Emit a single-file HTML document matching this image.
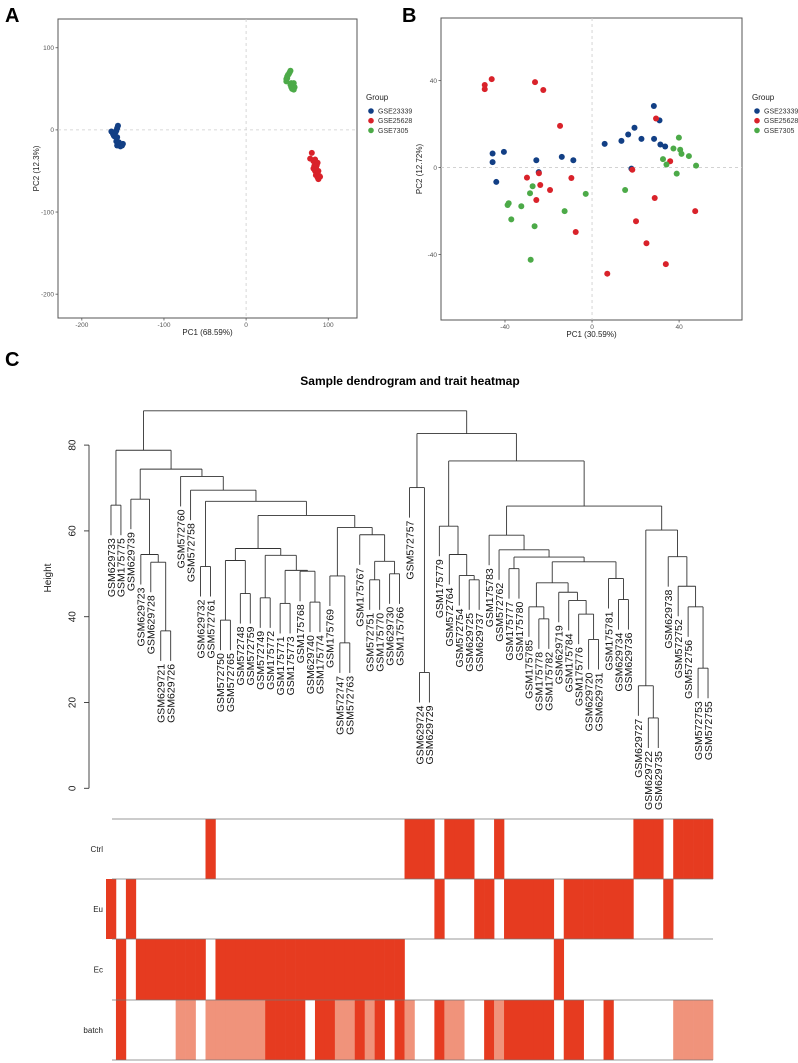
<!DOCTYPE html>
<html><head><meta charset="utf-8"><style>
html,body{margin:0;padding:0;background:#fff;}
svg{display:block;font-family:"Liberation Sans",sans-serif;}
</style></head><body>
<svg id="fig" width="798" height="1063" viewBox="0 0 798 1063" xmlns="http://www.w3.org/2000/svg">
<text x="5" y="22" font-size="20" font-weight="bold">A</text>
<text x="402" y="22" font-size="20" font-weight="bold">B</text>
<text x="5" y="366" font-size="20" font-weight="bold">C</text>
<text x="410" y="385" font-size="12" font-weight="bold" text-anchor="middle">Sample dendrogram and trait heatmap</text>
<g id="pa"></g>
<g id="pb"></g>
<g id="dend"></g>
<g id="heat"></g>
</svg>
<script>
// ---------- Panel A data ----------
const aBlue = [[-164,-2],[-162,-5],[-161,-7],[-159,-3],[-158,-1],[-157,2],[-156,5],[-160,-8],[-157,-9],[-158,-14],[-156,-16],[-154,-17],[-152,-18],[-150,-17],[-153,-20],[-157,-19],[-151,-19],[-155,-15]];
const aRed = [[80,-28],[78,-35],[82,-38],[84,-40],[83,-44],[85,-46],[82,-47],[84,-50],[86,-52],[85,-55],[87,-58],[89,-56],[88,-50],[86,-43],[87,-40],[84,-36],[88,-60],[90,-57],[83,-48]];
const aGreen = [[49,62],[50,65],[51,67],[52,68],[53,70],[54,72],[49,59],[50,63],[55,57],[56,55],[57,54],[58,57],[55,52],[56,50],[58,49],[59,52],[57,51],[54,55]];
const aXTicks = [-200,-100,0,100];
const aYTicks = [-200,-100,0,100];
// ---------- Panel B data ----------
const bBlue = [[-45.7,6.5],[-45.7,2.5],[-40.5,7.2],[-44.0,-6.6],[-25.6,3.4],[-24.5,-2.1],[-13.9,4.9],[-8.6,3.4],[5.8,10.9],[13.5,12.3],[16.6,15.2],[19.5,18.3],[22.7,13.2],[28.4,28.3],[31.0,21.7],[28.5,13.2],[31.4,10.6],[33.6,9.7],[18.1,-0.5]];
const bRed = [[-49.3,38.0],[-49.3,36.1],[-46.1,40.7],[-26.2,39.3],[-22.4,35.7],[-14.7,19.2],[-29.9,-4.6],[-24.4,-2.6],[-23.8,-8.0],[-19.3,-10.3],[-25.6,-14.9],[-9.5,-4.8],[-7.5,-29.6],[29.4,22.6],[35.9,2.9],[18.5,-1.0],[28.8,-14.0],[20.2,-24.7],[25.0,-34.8],[33.9,-44.4],[7.0,-48.8],[47.4,-20.0]];
const bGreen = [[-27.3,-8.6],[-28.5,-11.8],[-38.3,-16.4],[-38.8,-17.2],[-32.5,-17.8],[-37.1,-23.8],[-26.4,-27.0],[-28.2,-42.4],[-12.6,-20.0],[-2.9,-12.1],[15.2,-10.3],[39.9,13.8],[37.4,8.8],[40.5,8.2],[41.1,6.3],[44.5,5.3],[47.8,0.9],[32.6,3.9],[34.2,1.4],[38.9,-2.8]];
const bXTicks = [-40,0,40];
const bYTicks = [-40,0,40];
const groupNames = ["GSE23339","GSE25628","GSE7305"];
// ---------- Dendrogram data ----------
const leafLabels = ["GSM629733","GSM175775","GSM629739","GSM629723","GSM629728","GSM629721","GSM629726","GSM572760","GSM572758","GSM629732","GSM572761","GSM572750","GSM572765","GSM572748","GSM572759","GSM572749","GSM175772","GSM175771","GSM175773","GSM175768","GSM629740","GSM175774","GSM175769","GSM572747","GSM572763","GSM175767","GSM572751","GSM175770","GSM629730","GSM175766","GSM572757","GSM629724","GSM629729","GSM175779","GSM572764","GSM572754","GSM629725","GSM629737","GSM175783","GSM572762","GSM175777","GSM175780","GSM175785","GSM175778","GSM175782","GSM629719","GSM175784","GSM175776","GSM629720","GSM629731","GSM175781","GSM629734","GSM629736","GSM629727","GSM629722","GSM629735","GSM629738","GSM572752","GSM572756","GSM572753","GSM572755"];
const treeLeft = [78.8,[66.0,0,1],[74.4,[67.4,2,[54.5,3,[52.7,4,[36.7,5,6]]]],[72.7,7,[69.5,8,[66.9,[51.7,9,10],[63.6,[55.9,[53.1,[39.2,11,12],[45.4,13,14]],[54.3,[44.4,15,16],[50.8,[43.1,17,18],[50.6,19,[43.4,20,21]]]]],[60.8,[49.5,22,[33.9,23,24]],[59.1,25,[52.9,[48.6,26,27],[50.0,28,29]]]]]]]]]];
const treeRight = [82.7,[70.1,30,[27.0,31,32]],[76.3,[61.1,33,[54.5,34,[49.6,35,[48.6,36,37]]]],[65.8,[59.0,38,[55.6,39,[53.9,[51.2,40,41],[52.8,[47.9,[42.3,42,[39.5,43,44]],[45.7,45,[43.8,46,[40.6,47,[34.7,48,49]]]]],[48.9,50,[44.0,51,52]]]]]],[60.2,[23.9,53,[16.4,54,55]],[54.0,56,[47.1,57,[42.3,58,[28.0,59,60]]]]]]]];
const rootHeight = 88.0;
const heightTicks = [0,20,40,60,80];
// ---------- Heatmap data ----------
const traitNames = ["Ctrl","Eu","Ec","batch"];
const ctrl = [0,0,0,0,0,0,0,0,0,0, 1,0,0,0,0,0,0,0,0,0, 0,0,0,0,0,0,0,0,0,0, 1,1,1,0,1,1,1,0,0,1, 0,0,0,0,0,0,0,0,0,0, 0,0,0,1,1,1,0,1,1,1, 1];
const eu = [1,0,1,0,0,0,0,0,0,0, 0,0,0,0,0,0,0,0,0,0, 0,0,0,0,0,0,0,0,0,0, 0,0,0,1,0,0,0,1,1,0, 1,1,1,1,1,0,1,1,1,1, 1,1,1,0,0,0,1,0,0,0, 0];
const ec = [0,1,0,1,1,1,1,1,1,1, 0,1,1,1,1,1,1,1,1,1, 1,1,1,1,1,1,1,1,1,1, 0,0,0,0,0,0,0,0,0,0, 0,0,0,0,0,1,0,0,0,0, 0,0,0,0,0,0,0,0,0,0, 0];
const batch = [0,2,0,0,0,0,0,1,1,0, 1,1,1,1,1,1,2,2,2,2, 0,2,2,1,1,2,1,2,0,2, 1,0,0,2,1,1,0,0,2,1, 2,2,2,2,2,0,2,2,0,0, 2,0,0,0,0,0,0,1,1,1, 1];

const NS="http://www.w3.org/2000/svg";
const COLORS=["#123f85","#d9222a","#4caa48"];
function mk(parent,tag,attrs){const e=document.createElementNS(NS,tag);for(const k in attrs)e.setAttribute(k,attrs[k]);parent.appendChild(e);return e;}

function pca(g,cfg){
  const {x0,y0,x1,y1,xmin,xmax,ymin,ymax,series,xt,yt,xlab,ylab,legX,legY,pfx}=cfg;
  const sx=v=>x0+(v-xmin)/(xmax-xmin)*(x1-x0);
  const sy=v=>y1-(v-ymin)/(ymax-ymin)*(y1-y0);
  let r=mk(g,'rect',{x:x0,y:y0,width:x1-x0,height:y1-y0,fill:'#fff',stroke:'#555','stroke-width':1});
  
  
  let l=mk(g,'line',{x1:sx(0),x2:sx(0),y1:y0,y2:y1,stroke:'#ccc','stroke-dasharray':'3,3','stroke-width':0.8});
  
  
  l=mk(g,'line',{x1:x0,x2:x1,y1:sy(0),y2:sy(0),stroke:'#ccc','stroke-dasharray':'3,3','stroke-width':0.8});
  
  
  xt.forEach(v=>{
    mk(g,'line',{x1:sx(v),x2:sx(v),y1:y1,y2:y1+2.5,stroke:'#555','stroke-width':0.8});
    const t=mk(g,'text',{x:sx(v),y:y1+9,'font-size':6.5,fill:'#555','text-anchor':'middle'});
    t.textContent=v;
    
    
  });
  yt.forEach(v=>{
    mk(g,'line',{x1:x0-2.5,x2:x0,y1:sy(v),y2:sy(v),stroke:'#555','stroke-width':0.8});
    const t=mk(g,'text',{x:x0-4,y:sy(v)+2.3,'font-size':6.5,fill:'#555','text-anchor':'end'});
    t.textContent=v;
    
    
  });
  let t=mk(g,'text',{x:(x0+x1)/2,y:y1+17,'font-size':8,fill:'#222','text-anchor':'middle'});
  t.textContent=xlab;
  
  
  t=mk(g,'text',{x:0,y:0,'font-size':8,fill:'#222','text-anchor':'middle',transform:`translate(${x0-19},${(y0+y1)/2}) rotate(-90)`});
  t.textContent=ylab;
  
  
  series.forEach((s,si)=>{
    s.forEach(p=>{
      const c=mk(g,'circle',{cx:sx(p[0]),cy:sy(p[1]),r:3,fill:COLORS[si]});
      
      
    });
  });
  t=mk(g,'text',{x:legX,y:legY,'font-size':8,fill:'#222'});
  t.textContent='Group';
  
  
  groupNames.forEach((n,i)=>{
    const yy=legY+11+i*9.7;
    const c=mk(g,'circle',{cx:legX+5,cy:yy,r:2.8,fill:COLORS[i]});
    
    
    const tt=mk(g,'text',{x:legX+12,y:yy+2.5,'font-size':7,fill:'#333'});
    tt.textContent=n;
    
    
  });
}
pca(document.getElementById('pa'),{x0:58,y0:19,x1:357,y1:318,xmin:-229,xmax:135,ymin:-229,ymax:135,series:[aBlue,aRed,aGreen],xt:aXTicks,yt:aYTicks,xlab:'PC1 (68.59%)',ylab:'PC2 (12.3%)',legX:366,legY:100,pfx:'pca-a'});
pca(document.getElementById('pb'),{x0:441,y0:18,x1:742,y1:320,xmin:-69.4,xmax:68.9,ymin:-70.1,ymax:68.8,series:[bBlue,bRed,bGreen],xt:bXTicks,yt:bYTicks,xlab:'PC1 (30.59%)',ylab:'PC2 (12.72%)',legX:752,legY:100,pfx:'pca-b'});

// ---------- Dendrogram ----------
const dg=document.getElementById('dend');
const hx0=106, colW=(713-106)/leafLabels.length;
const leafX=i=>hx0+colW*(i+0.5);
const hy=h=>788.3-4.29*h;
const HANG=7;
function layout(node){
  if(typeof node==='number') return {x:leafX(node),h:null,leaf:node};
  const L=layout(node[1]),R=layout(node[2]);
  return {x:(L.x+R.x)/2,h:node[0],L,R};
}
function draw(n){
  [n.L,n.R].forEach(c=>{
    const bottom = c.leaf!==undefined ? n.h-HANG : c.h;
    const ln=mk(dg,'line',{x1:c.x,x2:c.x,y1:hy(n.h),y2:hy(bottom),stroke:'#333','stroke-width':0.9});
    
    
    if(c.leaf!==undefined){
      const t=mk(dg,'text',{x:0,y:0,'font-size':10.5,fill:'#111','text-anchor':'end',transform:`translate(${c.x+3.8},${hy(bottom)+3}) rotate(-90)`});
      t.textContent=leafLabels[c.leaf];
      
      
    } else draw(c);
  });
  const hl=mk(dg,'line',{x1:n.L.x,x2:n.R.x,y1:hy(n.h),y2:hy(n.h),stroke:'#333','stroke-width':0.9});
  
  
}
const rootNode=layout([rootHeight,treeLeft,treeRight]);
draw(rootNode);
let ax=mk(dg,'line',{x1:89,x2:89,y1:hy(heightTicks[0]),y2:hy(heightTicks[heightTicks.length-1]),stroke:'#333','stroke-width':0.9});


heightTicks.forEach(v=>{
  mk(dg,'line',{x1:84,x2:89,y1:hy(v),y2:hy(v),stroke:'#333','stroke-width':0.9});
  const t=mk(dg,'text',{x:0,y:0,'font-size':10,fill:'#222','text-anchor':'middle',transform:`translate(${75.5},${hy(v)}) rotate(-90)`});
  t.textContent=v;
  
  
});
let yt=mk(dg,'text',{x:0,y:0,'font-size':10,fill:'#222','text-anchor':'middle',transform:'translate(51,578) rotate(-90)'});
yt.textContent='Height';



// ---------- Heatmap ----------
const hg=document.getElementById('heat');
const rowsData=[ctrl,eu,ec,batch];
const rowTop=[819,879,939,1000], rowBot=[879,939,1000,1060];
const fills={1:'#e63b20',2:'#e63b20'};
rowsData.forEach((arr,r)=>{
  arr.forEach((v,i)=>{
    if(!v) return;
    let col = (r===3) ? (v===2?'#e63b20':'#f0937b') : '#e63b20';
    const rc=mk(hg,'rect',{x:hx0+colW*i,y:rowTop[r],width:colW+0.3,height:rowBot[r]-rowTop[r],fill:col});
    
    
  });
  const t=mk(hg,'text',{x:103,y:(rowTop[r]+rowBot[r])/2+3,'font-size':8,fill:'#222','text-anchor':'end'});
  t.textContent=traitNames[r];
  
  
});
[819,879,939,1000,1060].forEach(y=>{
  const ln=mk(hg,'line',{x1:112,x2:713,y1:y,y2:y,stroke:'#777','stroke-width':0.8});
  
  
});
</script>
</body></html>
